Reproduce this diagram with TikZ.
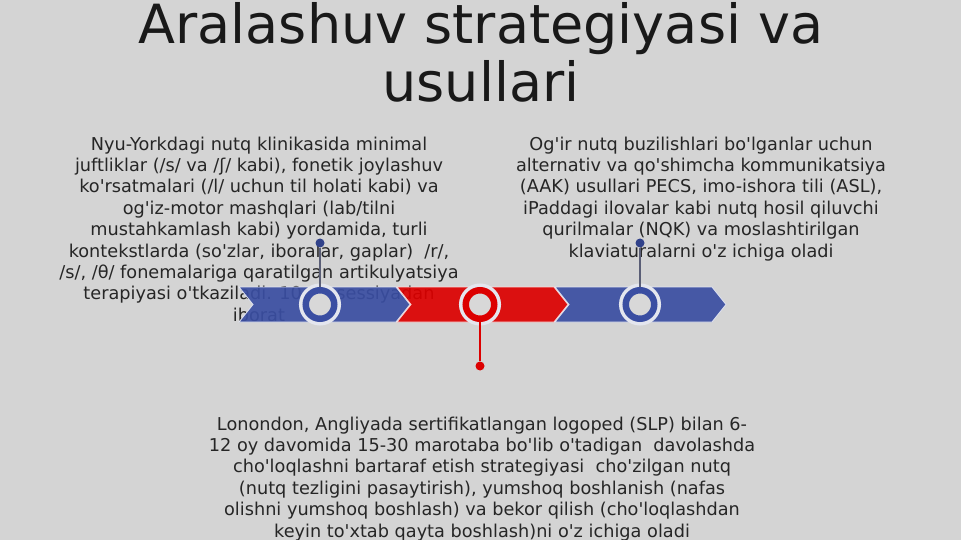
\documentclass[tikz,border=0pt]{standalone}
\usepackage{fontspec}
\setmainfont{DejaVu Sans}[Ligatures=TeXOff]
\usetikzlibrary{positioning}

\definecolor{slidebg}{RGB}{212,212,212}
\definecolor{bandblue}{RGB}{58,78,162}
\definecolor{bandred}{RGB}{220,0,0}
\definecolor{inktext}{RGB}{38,38,38}
\definecolor{halo}{RGB}{228,230,238}
\definecolor{ringin}{RGB}{216,216,216}
\definecolor{pinline}{RGB}{90,94,118}

% one arrow piece of the band: left end, colour
\newcommand{\chevron}[2]{%
  \fill[#2, fill opacity=0.92, draw=white!85!#2, line width=0.8pt]
    (#1,287) -- ++(157,0) -- ++(14,17.5) -- ++(-14,17.5)
    -- ++(-157,0) -- ++(14,-17.5) -- cycle;}

\begin{document}
\begin{tikzpicture}[x=1pt,y=-1pt]
  \tikzstyle{titletext}=[inner sep=0pt,align=center,text=black!90,
    font=\fontsize{54}{57.5}\selectfont]
  \tikzstyle{bodytext}=[inner sep=0pt,align=center,text=inktext,
    font=\fontsize{17.7}{21.4}\selectfont]
  \tikzstyle{ring}=[circle,inner sep=0pt,minimum size=28.5pt,
    line width=6.5pt,fill=ringin,preaction={draw=halo,line width=13.5pt}]
  \tikzstyle{pindot}=[circle,inner sep=0pt,minimum size=9pt]
  \tikzstyle{pin}=[line width=1.3pt]

  \fill[slidebg] (0,0) rectangle (961,540);
  \useasboundingbox (0,0) rectangle (961,540);

  % base anchor = baseline of the last line
  \node[titletext,anchor=base] (title) at (481,101.5)
    {Aralashuv strategiyasi va\\usullari};

  \node[bodytext,anchor=base] (leftText) at (259,321.2)
    {Nyu-Yorkdagi nutq klinikasida minimal\\
     juftliklar (/s/ va /ʃ/ kabi), fonetik joylashuv\\
     ko'rsatmalari (/l/ uchun til holati kabi) va\\
     og'iz-motor mashqlari (lab/tilni\\
     mustahkamlash kabi) yordamida, turli\\
     kontekstlarda (so'zlar, iboralar, gaplar)~ /r/,\\
     /s/, /θ/ fonemalariga qaratilgan artikulyatsiya\\
     terapiyasi o'tkaziladi. 10-20 sessiyadan\\
     iborat};

  \node[bodytext,anchor=base] (rightText) at (701,257)
    {Og'ir nutq buzilishlari bo'lganlar uchun\\
     alternativ va qo'shimcha kommunikatsiya\\
     (AAK) usullari PECS, imo-ishora tili (ASL),\\
     iPaddagi ilovalar kabi nutq hosil qiluvchi\\
     qurilmalar (NQK) va moslashtirilgan\\
     klaviaturalarni o'z ichiga oladi};

  \node[bodytext,anchor=base] (bottomText) at (482,537)
    {Lonondon, Angliyada sertifikatlangan logoped (SLP) bilan 6-\\
     12 oy davomida 15-30 marotaba bo'lib o'tadigan~ davolashda\\
     cho'loqlashni bartaraf etish strategiyasi~ cho'zilgan nutq\\
     (nutq tezligini pasaytirish), yumshoq boshlanish (nafas\\
     olishni yumshoq boshlash) va bekor qilish (cho'loqlashdan\\
     keyin to'xtab qayta boshlash)ni o'z ichiga oladi};

  % the band
  \foreach \x/\c in {239/bandblue, 397/bandred, 555/bandblue}
    \chevron{\x}{\c};

  \node[ring,draw=bandblue] (ringA) at (320,304.5) {};
  \node[ring,draw=bandred]  (ringB) at (480,304.5) {};
  \node[ring,draw=bandblue] (ringC) at (640,304.5) {};

  \node[pindot,fill=bandblue!85!black] (dotA) at (320,243) {};
  \node[pindot,fill=bandred]           (dotB) at (480,366) {};
  \node[pindot,fill=bandblue!85!black] (dotC) at (640,243) {};

  \draw[pin,pinline] (dotA) -- (ringA);
  \draw[pin,bandred] (dotB) -- (ringB);
  \draw[pin,pinline] (dotC) -- (ringC);
\end{tikzpicture}
\end{document}
